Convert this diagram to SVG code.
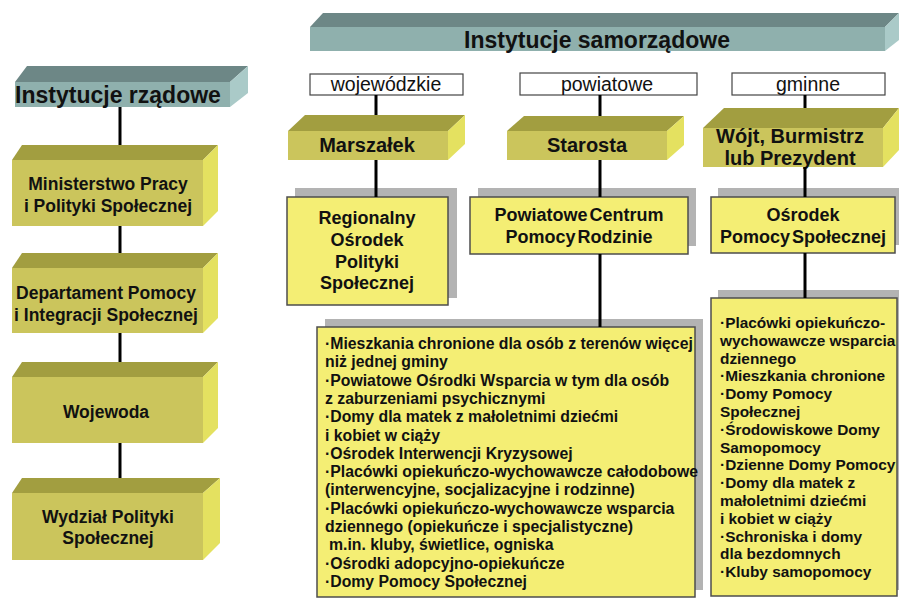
<svg xmlns="http://www.w3.org/2000/svg" width="899" height="600" viewBox="0 0 899 600">
<style>
.top{fill:#a29e40}.front{fill:#cbc55c}.side{fill:#e4e160}
.ttop{fill:#6d8786}.tfront{fill:#8fb0ad}.tside{fill:#aacac8}
.flat{fill:#f4ee74;stroke:#4d4d4d;stroke-width:1.5}
.shadow{fill:#b3b3b3}
.lbl{fill:#fff;stroke:#444;stroke-width:1.2}
.conn line{stroke:#000;stroke-width:3}
text{font-family:"Liberation Sans",Arial,sans-serif;fill:#111}
.b{font-weight:bold}
.h{font-size:23px;font-weight:bold}
.l{font-size:17.5px;font-weight:bold;text-anchor:middle}
.m{font-size:20px;font-weight:bold;text-anchor:middle}
.s{font-size:18px;font-weight:bold;text-anchor:middle}
.r{font-size:19.5px;text-anchor:middle}
.li{font-size:15.8px;font-weight:bold}
.lr{font-size:15.4px;font-weight:bold}
</style>
<rect width="899" height="600" fill="#fff"/>

<g id="samorzadowe">
<polygon class="ttop" points="310,27 323,13 899,13 885,27"/>
<rect class="tfront" x="310" y="27" width="575" height="24"/>
<polygon class="tside" points="885,27 899,13 899,40 885,51"/>
<text class="h" x="597" y="48" text-anchor="middle">Instytucje samorządowe</text>
</g>

<g id="rzadowe">
<polygon class="ttop" points="15,82 27,66 248,66 230,82"/>
<rect class="tfront" x="15" y="82" width="215" height="25"/>
<polygon class="tside" points="230,82 248,66 248,93 230,107"/>
<text class="h" x="118" y="103" text-anchor="middle">Instytucje rządowe</text>
</g>

<g id="ministerstwo">
<polygon class="top" points="12,160 22,145 218,145 203,160"/>
<rect class="front" x="12" y="160" width="191" height="66"/>
<polygon class="side" points="203,160 218,145 218,211 203,226"/>
<text class="l" x="108" y="190">Ministerstwo Pracy</text>
<text class="l" x="108" y="212">i Polityki Społecznej</text>
</g>

<g id="departament">
<polygon class="top" points="12,268 22,253 218,253 203,268"/>
<rect class="front" x="12" y="268" width="191" height="65"/>
<polygon class="side" points="203,268 218,253 218,318 203,333"/>
<text class="l" x="106" y="299">Departament Pomocy</text>
<text class="l" x="106" y="321">i Integracji Społecznej</text>
</g>

<g id="wojewoda">
<polygon class="top" points="12,377 22,362 218,362 203,377"/>
<rect class="front" x="12" y="377" width="191" height="66"/>
<polygon class="side" points="203,377 218,362 218,428 203,443"/>
<text class="l" x="106" y="418">Wojewoda</text>
</g>

<g id="wydzial">
<polygon class="top" points="12,493 22,478 220,478 203,493"/>
<rect class="front" x="12" y="493" width="191" height="67"/>
<polygon class="side" points="203,493 220,478 220,543 203,560"/>
<text class="l" x="108" y="523">Wydział Polityki</text>
<text class="l" x="108" y="544">Społecznej</text>
</g>

<g id="wojewodzkie">
<rect class="lbl" x="310" y="74" width="153" height="21"/>
<text class="r" x="386" y="91">wojewódzkie</text>
</g>
<g id="powiatowe">
<rect class="lbl" x="520" y="73" width="177" height="22"/>
<text class="r" x="607" y="91">powiatowe</text>
</g>
<g id="gminne">
<rect class="lbl" x="732" y="73" width="153" height="22"/>
<text class="r" x="808" y="91">gminne</text>
</g>

<g id="marszalek">
<polygon class="top" points="288,131 305,115 465,115 448,131"/>
<rect class="front" x="288" y="131" width="160" height="29"/>
<polygon class="side" points="448,131 465,115 465,144 448,160"/>
<text class="m" x="367" y="152">Marszałek</text>
</g>

<g id="starosta">
<polygon class="top" points="507,131 524,116 684,116 667,131"/>
<rect class="front" x="507" y="131" width="160" height="29"/>
<polygon class="side" points="667,131 684,116 684,145 667,160"/>
<text class="m" x="587" y="152">Starosta</text>
</g>

<g id="wojt">
<polygon class="top" points="703,128 724,108 899,108 883,128"/>
<rect class="front" x="703" y="128" width="180" height="39"/>
<polygon class="side" points="883,128 899,108 899,150 883,167"/>
<text class="m" x="790" y="143">Wójt, Burmistrz</text>
<text class="m" x="790" y="165">lub Prezydent</text>
</g>

<g id="regionalny">
<rect class="shadow" x="295" y="188" width="162" height="110"/>
<rect class="flat" x="287" y="197" width="161" height="108"/>
<text class="s" x="367" y="224">Regionalny</text>
<text class="s" x="367" y="246">Ośrodek</text>
<text class="s" x="367" y="268">Polityki</text>
<text class="s" x="367" y="289">Społecznej</text>
</g>

<g id="pcpr">
<rect class="shadow" x="478" y="188" width="218" height="58"/>
<rect class="flat" x="470" y="197" width="218" height="57"/>
<text class="s" x="579" y="221" word-spacing="-3">Powiatowe Centrum</text>
<text class="s" x="579" y="243" word-spacing="-3">Pomocy Rodzinie</text>
</g>

<g id="ops">
<rect class="shadow" x="718" y="188" width="190" height="57"/>
<rect class="flat" x="711" y="197" width="184" height="56"/>
<text class="s" x="803" y="221">Ośrodek</text>
<text class="s" x="803" y="243" word-spacing="-3">Pomocy Społecznej</text>
</g>

<g id="lista-powiat">
<rect class="shadow" x="325" y="319" width="378" height="271"/>
<rect class="flat" x="317" y="327" width="378" height="270"/>
<text class="li" x="325" y="349">·Mieszkania chronione dla osób z terenów więcej</text>
<text class="li" x="325" y="367.3">niż jednej gminy</text>
<text class="li" x="325" y="385.6">·Powiatowe Ośrodki Wsparcia w tym dla osób</text>
<text class="li" x="325" y="403.9">z zaburzeniami psychicznymi</text>
<text class="li" x="325" y="422.2">·Domy dla matek z małoletnimi  dziećmi</text>
<text class="li" x="325" y="440.5">i kobiet w ciąży</text>
<text class="li" x="325" y="458.8">·Ośrodek Interwencji Kryzysowej</text>
<text class="li" x="325" y="477.1">·Placówki opiekuńczo-wychowawcze całodobowe</text>
<text class="li" x="325" y="495.4">(interwencyjne, socjalizacyjne i rodzinne)</text>
<text class="li" x="325" y="513.7">·Placówki opiekuńczo-wychowawcze wsparcia</text>
<text class="li" x="325" y="532">dziennego (opiekuńcze i specjalistyczne)</text>
<text class="li" x="329" y="550.3">m.in. kluby, świetlice, ogniska</text>
<text class="li" x="325" y="568.6">·Ośrodki adopcyjno-opiekuńcze</text>
<text class="li" x="325" y="586.9">·Domy Pomocy Społecznej</text>
</g>

<g id="lista-gmina">
<rect class="shadow" x="718" y="290" width="190" height="300"/>
<rect class="flat" x="711" y="298" width="186" height="298"/>
<text class="lr" x="720" y="328">·Placówki opiekuńczo-</text>
<text class="lr" x="720" y="345.8">wychowawcze wsparcia</text>
<text class="lr" x="720" y="363.6">dziennego</text>
<text class="lr" x="720" y="381.4">·Mieszkania chronione</text>
<text class="lr" x="720" y="399.2">·Domy Pomocy</text>
<text class="lr" x="720" y="417">Społecznej</text>
<text class="lr" x="720" y="434.8">·Środowiskowe Domy</text>
<text class="lr" x="720" y="452.6">Samopomocy</text>
<text class="lr" x="720" y="470.4">·Dzienne Domy Pomocy</text>
<text class="lr" x="720" y="488.2">·Domy dla matek z</text>
<text class="lr" x="720" y="506">małoletnimi dziećmi</text>
<text class="lr" x="720" y="523.8">i kobiet w ciąży</text>
<text class="lr" x="720" y="541.6">·Schroniska i domy</text>
<text class="lr" x="720" y="559.4">dla bezdomnych</text>
<text class="lr" x="720" y="577.2">·Kluby samopomocy</text>
</g>

<g id="connectors" class="conn">
<line x1="120" y1="107" x2="120" y2="145"/>
<line x1="120" y1="226" x2="120" y2="253"/>
<line x1="120" y1="333" x2="120" y2="362"/>
<line x1="120" y1="443" x2="120" y2="478"/>
<line x1="376" y1="95" x2="376" y2="115"/>
<line x1="376" y1="160" x2="376" y2="197"/>
<line x1="600" y1="95" x2="600" y2="116"/>
<line x1="600" y1="160" x2="600" y2="197"/>
<line x1="600" y1="254" x2="600" y2="327"/>
<line x1="805" y1="95" x2="805" y2="108"/>
<line x1="805" y1="167" x2="805" y2="197"/>
<line x1="805" y1="253" x2="805" y2="298"/>
</g>
</svg>
